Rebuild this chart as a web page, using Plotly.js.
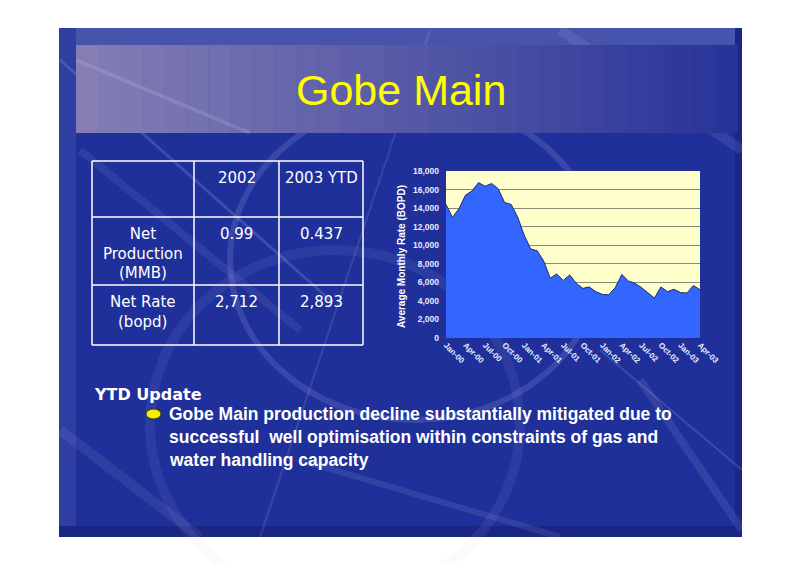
<!DOCTYPE html>
<html>
<head>
<meta charset="utf-8">
<script src="https://cdn.plot.ly/plotly-3.0.1.min.js"></script>
<style>html,body{margin:0;padding:0;background:#fff;}#chart{width:800px;height:565px;}</style>
</head>
<body>
<div id="chart"></div>
<script>
// ---- Chart data ----
const months = ["Jan-00","Feb-00","Mar-00","Apr-00","May-00","Jun-00","Jul-00","Aug-00","Sep-00","Oct-00","Nov-00","Dec-00",
  "Jan-01","Feb-01","Mar-01","Apr-01","May-01","Jun-01","Jul-01","Aug-01","Sep-01","Oct-01","Nov-01","Dec-01",
  "Jan-02","Feb-02","Mar-02","Apr-02","May-02","Jun-02","Jul-02","Aug-02","Sep-02","Oct-02","Nov-02","Dec-02",
  "Jan-03","Feb-03","Mar-03","Apr-03"];
const rateBOPD = [14400,13000,13950,15400,15850,16750,16350,16650,16100,14600,14400,13050,
  11100,9600,9400,8300,6450,6900,6200,6800,5900,5350,5500,5000,
  4700,4650,5450,6850,6150,5900,5450,4850,4300,5500,5000,5250,
  4900,4850,5650,5200];
const tickLabels = ["Jan-00","Apr-00","Jul-00","Oct-00","Jan-01","Apr-01","Jul-01","Oct-01","Jan-02","Apr-02","Jul-02","Oct-02","Jan-03","Apr-03"];
const yTicks = [0,2000,4000,6000,8000,10000,12000,14000,16000,18000];

// ---- Table data ----
const tableHeader = ["", "2002", "2003 YTD"];
const rowLabels = ["Net<br>Production<br>(MMB)", "Net Rate<br>(bopd)"];
const col2002 = ["0.99", "2,712"];
const col2003 = ["0.437", "2,893"];

// ---- Text ----
const slideTitle = "Gobe Main";
const yTitle = "Average Monthly Rate (BOPD)";
const sectionHead = "YTD Update";
const bulletLines = ["Gobe Main production decline substantially mitigated due to",
  "successful  well optimisation within constraints of gas and",
  "water handling capacity"];

const W = 800, H = 565;
const px = x => x / W, py = y => 1 - y / H;

const shapes = [];
function rect(x0, y0, x1, y1, color, extra) {
  shapes.push(Object.assign({type:'rect', xref:'paper', yref:'paper', x0:px(x0), x1:px(x1), y0:py(y1), y1:py(y0),
    fillcolor:color, line:{width:0}, layer:'below'}, extra || {}));
}
// slide background
rect(59, 28, 742, 537, '#20309a');
rect(59, 28, 742, 45, '#4654ac');
rect(59, 28, 76, 537, '#2e3ea2');
rect(59, 526, 742, 537, '#1a2683');
rect(735, 28, 742, 537, '#1a2786');
// soft lighter texture regions
shapes.push({type:'circle', xref:'paper', yref:'paper', x0:px(230), x1:px(600), y0:py(420), y1:py(100),
  line:{color:'rgba(200,210,255,0.15)', width:6}, layer:'below'});
shapes.push({type:'circle', xref:'paper', yref:'paper', x0:px(150), x1:px(520), y0:py(600), y1:py(250),
  line:{color:'rgba(200,210,255,0.08)', width:10}, layer:'below'});
function streak(x0,y0,x1,y1,a,w){
  shapes.push({type:'line', xref:'paper', yref:'paper', x0:px(x0), y0:py(y0), x1:px(x1), y1:py(y1),
    line:{color:'rgba(220,230,255,'+a+')', width:w}, layer:'below'});
}
streak(60,60,330,300,0.16,3);
streak(80,150,300,330,0.08,8);
streak(430,30,260,537,0.12,2);
streak(600,350,742,470,0.15,2);
streak(560,30,742,150,0.10,10);
streak(640,380,742,530,0.10,8);
streak(60,430,200,537,0.08,10);
streak(300,460,560,537,0.10,6);
// title band gradient
const nStrip = 30, bx0 = 76, bx1 = 737;
for (let i = 0; i < nStrip; i++) {
  const t = i / (nStrip - 1);
  const r = Math.round(132 + (40 - 132) * t), g = Math.round(126 + (52 - 126) * t), b = Math.round(180 + (152 - 180) * t);
  const xa = bx0 + (bx1 - bx0) * i / nStrip, xb = bx0 + (bx1 - bx0) * (i + 1) / nStrip + 0.5;
  rect(xa, 45, xb, 133, 'rgb(' + r + ',' + g + ',' + b + ')');
}
streak(76,60,250,133,0.15,4);
// plot area background (pale yellow)
rect(446, 171, 700, 338, '#ffffcc');
// table grid lines
const tX = [92, 194, 279, 363], tY = [161, 217, 285, 345];
function tline(x0,y0,x1,y1){
  shapes.push({type:'line', xref:'paper', yref:'paper', x0:px(x0), y0:py(y0), x1:px(x1), y1:py(y1),
    line:{color:'#ffffff', width:1.5}, layer:'above'});
}
tX.forEach(x => tline(x, tY[0], x, tY[3]));
tY.forEach(y => tline(tX[0], y, tX[3], y));
// bullet
shapes.push({type:'circle', xref:'paper', yref:'paper', x0:px(146), x1:px(161), y0:py(419), y1:py(409),
  fillcolor:'#f2f200', line:{color:'#3a3a10', width:1}, layer:'above'});

const fontTxt = 'Liberation Sans, Arial, sans-serif';
const annotations = [
  {text: slideTitle, x: px(401), y: py(90), xref:'paper', yref:'paper', showarrow:false, xanchor:'center', yanchor:'middle',
   font:{family:fontTxt, size:43, color:'#ffff00'}},
  {text: yTitle, x: px(401), y: py(257), xref:'paper', yref:'paper', showarrow:false, textangle:-90, xanchor:'center', yanchor:'middle',
   font:{family:fontTxt, size:10, color:'#ffffff', weight:'bold'}},
  {text: sectionHead, x: px(92), y: py(394), xref:'paper', yref:'paper', showarrow:false, xanchor:'left', yanchor:'middle',
   font:{family:'DejaVu Sans, sans-serif', size:16, color:'#ffffff', weight:'bold'}},
];
bulletLines.forEach((s, i) => annotations.push({text: s, x: px(167), y: py(414 + i * 23), xref:'paper', yref:'paper', showarrow:false,
  xanchor:'left', yanchor:'middle', font:{family:fontTxt, size:17.5, color:'#ffffff', weight:'bold'}}));

// table text
const tFont = {family:'DejaVu Sans, sans-serif', size:15, color:'#ffffff'};
const colCenters = [(tX[0]+tX[1])/2, (tX[1]+tX[2])/2, (tX[2]+tX[3])/2];
function cell(text, ci, yTop){
  annotations.push({text: text, x: px(colCenters[ci]), y: py(yTop), xref:'paper', yref:'paper', showarrow:false,
    xanchor:'center', yanchor:'top', align:'center', font:tFont});
}
tableHeader.forEach((t, i) => { if (t) cell(t, i, 167); });
const rowTops = [223, 291];
rowLabels.forEach((t, r) => { cell(t, 0, rowTops[r]); cell(col2002[r], 1, rowTops[r]); cell(col2003[r], 2, rowTops[r]); });

const area = {
  type:'scatter', mode:'lines', x: months, y: rateBOPD, fill:'tozeroy', fillcolor:'#3366ff',
  line:{color:'#1c2a6e', width:1}, hoverinfo:'skip'
};

const layout = {
  width: W, height: H, margin:{l:0, r:0, t:0, b:0},
  paper_bgcolor:'#ffffff', plot_bgcolor:'rgba(0,0,0,0)', showlegend:false,
  xaxis:{domain:[px(446), px(700)], type:'category', range:[0, months.length - 1], tickmode:'array', tickvals: tickLabels, ticktext: tickLabels,
    tickangle:45, ticks:'', showgrid:false, zeroline:false, showline:false, fixedrange:true,
    tickfont:{family:fontTxt, size:8, color:'#e8ecff', weight:'bold'}},
  yaxis:{domain:[py(338), py(171)], range:[0, 18000], tickmode:'array', tickvals: yTicks, tickformat:',d', ticks:'',
    showgrid:true, gridcolor:'#8a8a7a', gridwidth:1, zeroline:false, showline:false, fixedrange:true, ticklabelstandoff:6,
    tickfont:{family:fontTxt, size:8.5, color:'#e8ecff', weight:'bold'}},
  shapes: shapes, annotations: annotations
};

Plotly.newPlot('chart', [area], layout, {displayModeBar:false, staticPlot:true});
</script>
</body>
</html>
